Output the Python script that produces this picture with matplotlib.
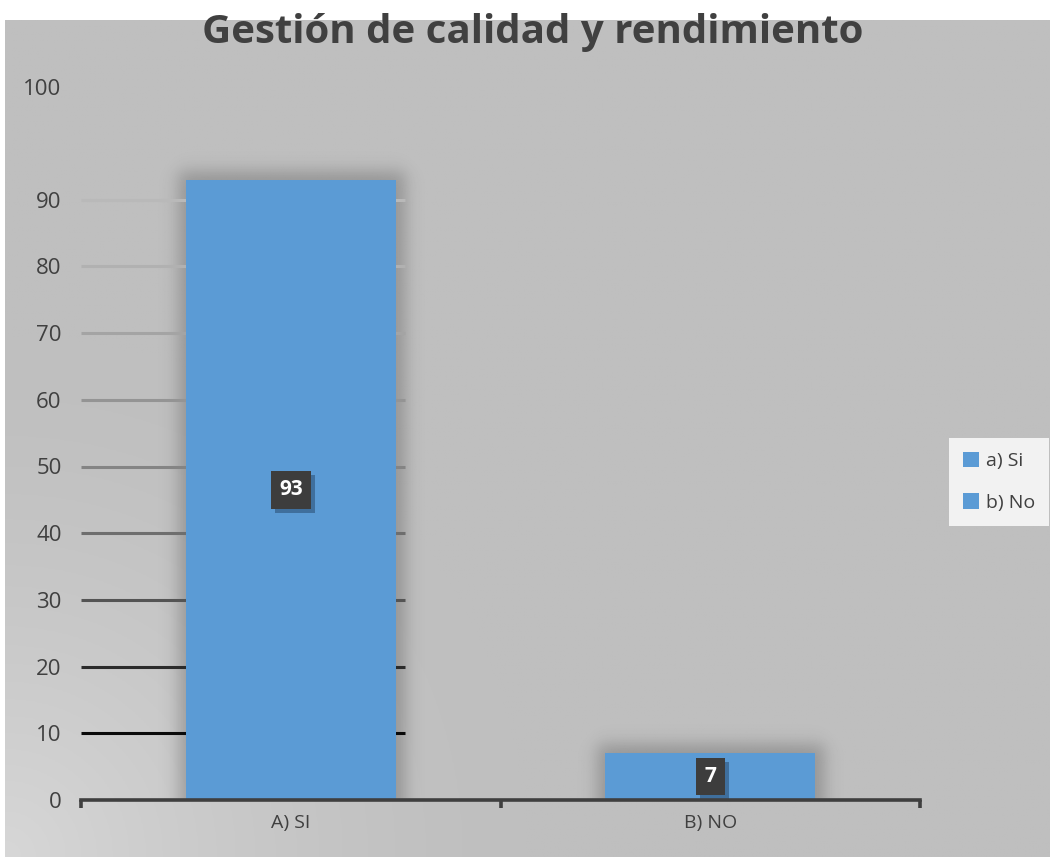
import numpy as np
import matplotlib
matplotlib.use("Agg")
import matplotlib.pyplot as plt
import matplotlib.transforms as mtransforms
import matplotlib.patheffects as pe
from matplotlib.patches import Patch

# ---- data ----
categories = ["A) SI", "B) NO"]
values = [93, 7]
series_labels = ["a) Si", "b) No"]
y_ticks = [0, 10, 20, 30, 40, 50, 60, 70, 80, 90, 100]
title = "Gestión de calidad y rendimiento"

BAR_COLOR = "#5B9BD5"
TEXT_COLOR = "#404040"
W, H, DPI = 1050, 857, 100

plt.rcParams["font.family"] = ["Open Sans", "DejaVu Sans"]

fig = plt.figure(figsize=(W / DPI, H / DPI), dpi=DPI, facecolor="white")

# ---- chart area background with a soft light corner at bottom-left ----
bg = fig.add_axes([5 / W, 0, 1 - 5 / W, (H - 20) / H], zorder=0)
gx, gy = np.meshgrid(np.linspace(0, W - 5, 400), np.linspace(0, H - 20, 300))
r = np.hypot(gx, gy)
shade = 191 + 24 * np.clip(1 - r / 520, 0, 1) ** 1.5
bg.imshow(np.dstack([shade / 255] * 3), origin="lower", aspect="auto",
          extent=[0, 1, 0, 1])
bg.set_axis_off()

# ---- plot axes ----
left, right = 81 / W, 920 / W
bottom, top = (H - 800) / H, (H - 133) / H
ax = fig.add_axes([left, bottom, right - left, top - bottom], zorder=1)
ax.set_facecolor("none")

x = np.arange(len(categories))
bar_w = 0.5

# soft drop shadows behind the bars
def smooth_box(t, lo, hi, s):
    return 0.25 * (1 + np.tanh((t - lo) / s)) * (1 + np.tanh((hi - t) / s))

px_x = 2.0 / (right - left) / W      # data units per pixel (x)
px_y = 100.0 / (top - bottom) / H    # data units per pixel (y)
for xi, v in zip(x, values):
    x0, x1 = xi - bar_w / 2, xi + bar_w / 2
    ex0, ex1 = x0 - 45 * px_x, x1 + 45 * px_x
    ey0, ey1 = 0, v + 45 * px_y
    sx = np.linspace(ex0, ex1, 240)
    sy = np.linspace(ey0, ey1, 240)
    SX, SY = np.meshgrid(sx, sy)
    a = smooth_box(SX, x0 - 8 * px_x, x1 + 10 * px_x, 10 * px_x) * \
        smooth_box(SY, -50, v + 9 * px_y, 10 * px_y)
    img = np.zeros((240, 240, 4))
    img[..., 3] = 0.22 * a
    ax.imshow(img, origin="lower", aspect="auto", extent=[ex0, ex1, ey0, ey1],
              zorder=1, interpolation="bilinear")
ax.set_xlim(-0.5, 1.5)
ax.set_ylim(0, 100)

# horizontal gridlines, darkest near the baseline
grid_colors = ["#0a0a0a", "#2b2b2b", "#545454", "#6e6e6e", "#848484",
               "#949494", "#a4a4a4", "#b1b1b1", "#b9b9b9"]
grid_x_end = -0.5 + (405 - 81) * px_x
for yv, c in zip(y_ticks[1:10], grid_colors):
    ax.hlines(yv, -0.5, grid_x_end, colors=c, linewidth=2.2, zorder=2)

bars = ax.bar(x, values, width=bar_w, color=BAR_COLOR, zorder=3)

# value labels on dark boxes with a slight shadow
for xi, v in zip(x, values):
    t = ax.text(xi, v / 2, str(v), ha="center", va="center", fontsize=15,
                fontweight="bold", color="white",
                bbox=dict(boxstyle="square,pad=0.4", fc="#3d3d3d", ec="none"),
                zorder=5)
    t.get_bbox_patch().set_path_effects(
        [pe.SimplePatchShadow(offset=(3, -3), shadow_rgbFace="#1f3a5a",
                              alpha=0.45), pe.Normal()])

# axes styling
for s in ["top", "right", "left"]:
    ax.spines[s].set_visible(False)
ax.spines["bottom"].set_color("#3f3f3f")
ax.spines["bottom"].set_linewidth(2.6)
ax.spines["bottom"].set_zorder(6)

ax.set_xticks(x)
ax.set_xticklabels(categories, fontsize=14, color=TEXT_COLOR)
ax.tick_params(axis="x", which="major", length=0, pad=10)
ax.set_xticks([-0.5, 0.5, 1.5], minor=True)
ax.tick_params(axis="x", which="minor", length=6, width=2.6, color="#3f3f3f",
               direction="out")

ax.set_yticks(y_ticks)
ax.set_yticklabels([str(t) for t in y_ticks], fontsize=16, color=TEXT_COLOR)
ax.tick_params(axis="y", length=0, pad=14)
# the top label sits higher than its gridline position
top_lbl = ax.get_yticklabels()[-1]
top_lbl.set_transform(top_lbl.get_transform() +
                      mtransforms.ScaledTranslation(0, 46 / DPI,
                                                    fig.dpi_scale_trans))

# title
fig.text(533 / W, 1 - 43 / H, title, ha="center", va="baseline",
         fontsize=29, fontweight="bold", color=TEXT_COLOR, zorder=10)

# legend
handles = [Patch(facecolor=BAR_COLOR, edgecolor="none", label=lbl)
           for lbl in series_labels]
leg = fig.legend(handles=handles, loc="upper left",
                 bbox_to_anchor=(949 / W, 1 - 438 / H), fontsize=14,
                 frameon=True, fancybox=False, borderaxespad=0,
                 handlelength=0.85, handleheight=0.85, handletextpad=0.35,
                 labelspacing=1.2, borderpad=0.7)
leg.get_frame().set_facecolor("#f2f2f2")
leg.get_frame().set_edgecolor("none")
leg.get_frame().set_alpha(1)
for t in leg.get_texts():
    t.set_color(TEXT_COLOR)

fig.savefig("out.png", dpi=DPI, facecolor="white")
